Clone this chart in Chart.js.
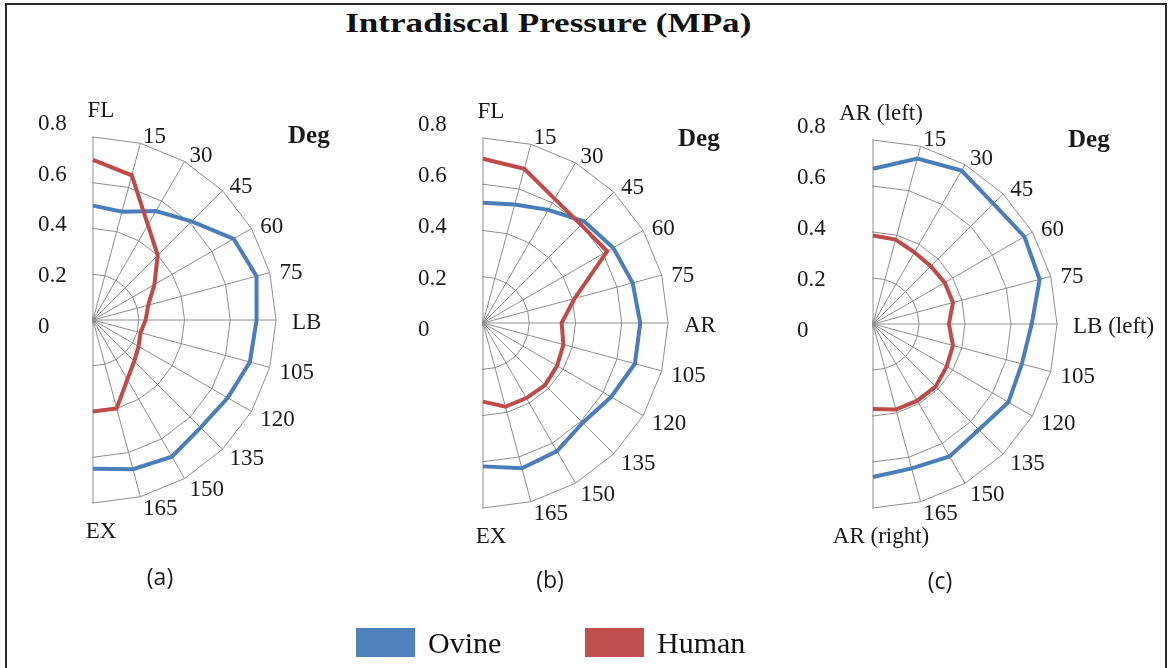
<!DOCTYPE html>
<html>
<head>
<meta charset="utf-8">
<script src="https://cdn.jsdelivr.net/npm/chart.js@4.4.1/dist/chart.umd.min.js"></script>
<style>
  html, body { margin: 0; padding: 0; background: #fff; }
  #page { position: relative; width: 1172px; height: 668px; overflow: hidden; background: #fff; }
  #frame { position: absolute; left: 5px; top: 3px; width: 1162px; height: 720px;
           border: 2px solid #2a2a2a; box-sizing: border-box; }
  #title { position: absolute; left: 0; top: 10px; width: 1096px; text-align: center;
           font: bold 27px "Liberation Serif", "Times New Roman", serif; line-height: 27px; color: #111; }
  #title span { display: inline-block; transform: scaleX(1.3); }
  .panel { position: absolute; }
  #legend { position: absolute; left: 356px; top: 628px; display: flex; }
  .item { display: flex; align-items: center; width: 229px; }
  .swatch { width: 59px; height: 29px; margin-right: 13px; }
  .item span { font: 30px "Liberation Serif", "Times New Roman", serif; color: #111; line-height: 29px; }
</style>
</head>
<body>
<div id="page">
  <div id="frame"></div>
  <div id="title"><span>Intradiscal Pressure (MPa)</span></div>
  <div class="panel" id="pa"><canvas id="chartA" width="500" height="560"></canvas></div>
  <div class="panel" id="pb"><canvas id="chartB" width="500" height="560"></canvas></div>
  <div class="panel" id="pc"><canvas id="chartC" width="500" height="560"></canvas></div>
  <div id="legend"></div>
</div>
<script>
// ---- data (angles 0..180 deg, every 15 deg) ----
const labelsA = ['FL', '15', '30', '45', '60', '75', 'LB', '105', '120', '135', '150', '165', 'EX'];
const labelsB = ['FL', '15', '30', '45', '60', '75', 'AR', '105', '120', '135', '150', '165', 'EX'];
const labelsC = ['AR (left)', '15', '30', '45', '60', '75', 'LB (left)', '105', '120', '135', '150', '165', 'AR (right)'];

const ovineA = [0.50, 0.49, 0.55, 0.61, 0.71, 0.74, 0.715, 0.71, 0.68, 0.665, 0.69, 0.675, 0.65];
const humanA = [0.70, 0.655, 0.48, 0.40, 0.31, 0.25, 0.23, 0.215, 0.23, 0.255, 0.30, 0.40, 0.40];

const ovineB = [0.52, 0.53, 0.565, 0.62, 0.65, 0.67, 0.68, 0.68, 0.64, 0.61, 0.64, 0.65, 0.62];
const humanB = [0.71, 0.69, 0.62, 0.60, 0.62, 0.41, 0.34, 0.36, 0.37, 0.38, 0.375, 0.375, 0.34];

const ovineC = [0.675, 0.745, 0.77, 0.74, 0.76, 0.75, 0.69, 0.67, 0.68, 0.65, 0.665, 0.65, 0.665];
const humanC = [0.385, 0.38, 0.36, 0.355, 0.36, 0.36, 0.33, 0.36, 0.37, 0.385, 0.385, 0.385, 0.37];

const seriesNames = ['Ovine', 'Human'];
const seriesColors = ['#4a7ebb', '#be4b48'];
const captions = ['(a)', '(b)', '(c)'];

const rMax = 0.8;
const rStep = 0.2;

Chart.defaults.font.family = '"Liberation Serif", "Times New Roman", serif';

const serif = '"Liberation Serif", "Times New Roman", serif';

// the radar is a full circle: only the right half (0..180 deg) is shown
const HIDDEN = 11;

const halfPolar = {
  id: 'halfPolar',
  beforeDraw(chart) {
    const s = chart.scales.r;
    const ctx = chart.ctx;
    ctx.save();
    ctx.beginPath();
    ctx.rect(s.xCenter - 1, 0, chart.width, chart.height);
    ctx.clip();
  },
  beforeDatasetsDraw(chart) {
    chart.ctx.restore();
  },
  afterDraw(chart, args, opts) {
    const s = chart.scales.r;
    const ctx = chart.ctx;
    const R = s.drawingArea;
    ctx.save();
    ctx.fillStyle = '#1a1a1a';

    // value labels, left of the axis
    ctx.font = '23px ' + serif;
    ctx.textAlign = 'left';
    ctx.textBaseline = 'middle';
    s.ticks.forEach(t => {
      const y = s.yCenter + 7 - s.getDistanceFromCenterForValue(t.value) * 1.11;
      ctx.fillText(t.label, s.xCenter - opts.tickOffset, y);
    });

    // angle labels
    ctx.textBaseline = 'alphabetic';
    opts.labels.forEach((lab, i) => {
      const p = s.getPointPosition(i, R + 10);
      if (i === 0) {
        ctx.textAlign = 'center';
        ctx.fillText(lab, s.xCenter + 8, s.yCenter - R - 20);
      } else if (i === opts.labels.length - 1) {
        ctx.textAlign = 'center';
        ctx.fillText(lab, s.xCenter + 8, s.yCenter + R + 35);
      } else {
        ctx.textAlign = 'left';
        ctx.fillText(lab, p.x + (i === 6 ? 6 : 0), p.y + 9);
      }
    });

    ctx.font = 'bold 25px ' + serif;
    ctx.textAlign = 'left';
    ctx.fillText('Deg', s.xCenter + 195, s.yCenter - 177);

    ctx.font = '23px "Open Sans", "Liberation Sans", sans-serif';
    ctx.textAlign = 'center';
    ctx.fillText(opts.caption, s.xCenter + 67, s.yCenter + 265);
    ctx.restore();
  }
};

function padHidden(arr) {
  return arr.concat(Array(HIDDEN).fill(null));
}

function makeChart(canvasId, panelId, cx, cy, R, labels, ovine, human, caption, tickOffset) {
  const panel = document.getElementById(panelId);
  panel.style.left = (cx - 200) + 'px';
  panel.style.top = (cy - 240) + 'px';

  return new Chart(document.getElementById(canvasId), {
    type: 'radar',
    data: {
      labels: labels.concat(Array(HIDDEN).fill('')),
      datasets: [
        { label: seriesNames[0], data: padHidden(ovine), borderColor: seriesColors[0],
          backgroundColor: seriesColors[0], borderWidth: 4, pointRadius: 0, fill: false, order: 2 },
        { label: seriesNames[1], data: padHidden(human), borderColor: seriesColors[1],
          backgroundColor: seriesColors[1], borderWidth: 4, pointRadius: 0, fill: false, order: 1 },
      ],
    },
    options: {
      responsive: false,
      animation: false,
      layout: { padding: { left: 200 - R, right: 300 - R, top: 240 - R, bottom: 320 - R } },
      plugins: {
        legend: { display: false },
        tooltip: { enabled: false },
        halfPolar: { labels, caption, tickOffset },
      },
      scales: {
        r: {
          min: 0,
          max: rMax,
          ticks: { stepSize: rStep, display: false, callback: v => (v === 0 ? '0' : v.toFixed(1)) },
          pointLabels: { display: false },
          grid: { color: '#8e8e8e', lineWidth: 1 },
          angleLines: { color: '#8e8e8e', lineWidth: 1 },
        },
      },
    },
    plugins: [halfPolar],
  });
}

makeChart('chartA', 'pa', 93, 320, 183, labelsA, ovineA, humanA, captions[0], 55);
makeChart('chartB', 'pb', 483, 323, 185, labelsB, ovineB, humanB, captions[1], 65);
makeChart('chartC', 'pc', 873, 324, 184, labelsC, ovineC, humanC, captions[2], 76);

// legend built from the series arrays
const legendColors = ['#4f81bd', '#c0504d'];
const legend = document.getElementById('legend');
seriesNames.forEach((name, i) => {
  const item = document.createElement('div');
  item.className = 'item';
  item.innerHTML = '<div class="swatch" style="background:' + legendColors[i] + '"></div><span>' + name + '</span>';
  legend.appendChild(item);
});
</script>
</body>
</html>
